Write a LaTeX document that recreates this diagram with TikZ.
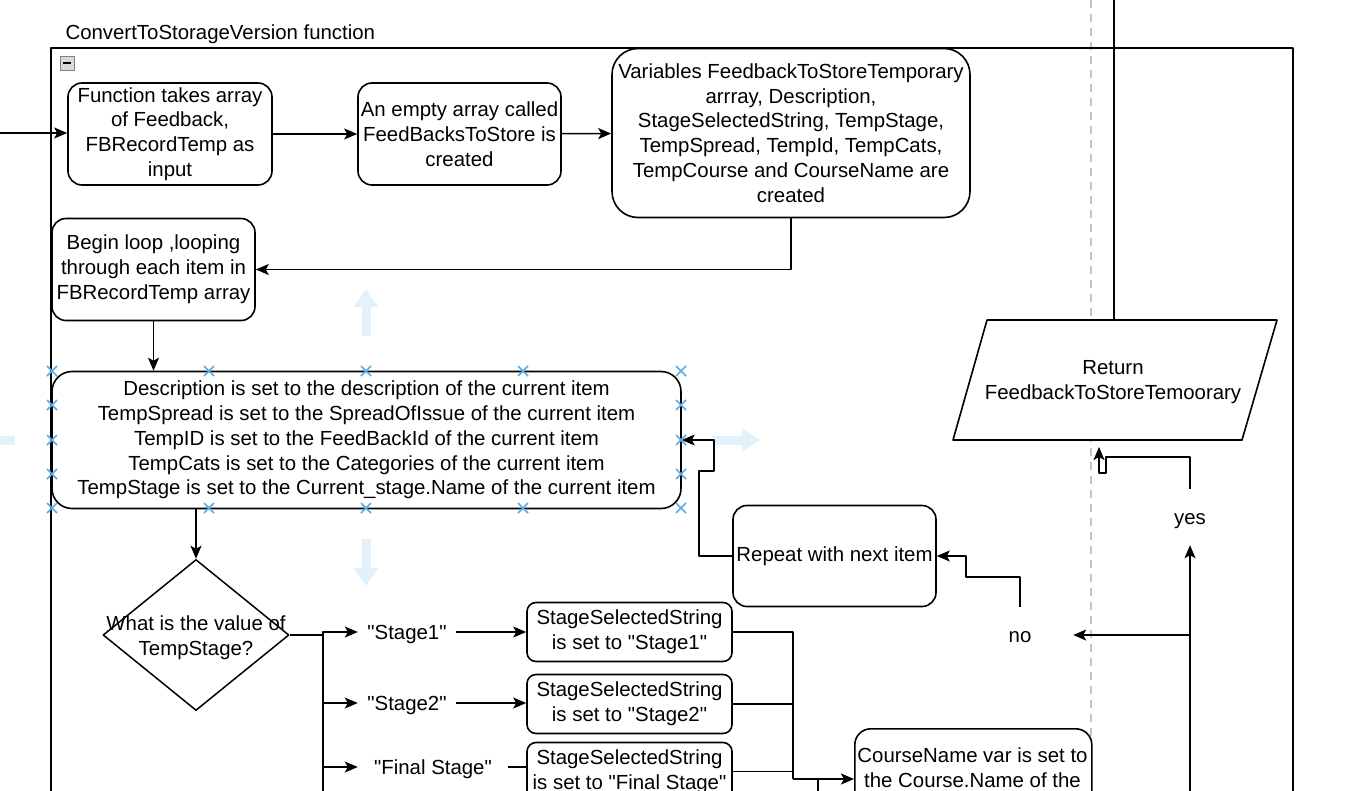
\documentclass[tikz,border=0pt]{standalone}
\usepackage{fontspec}
\setmainfont{Liberation Sans}[Ligatures=TeXOff]
\usetikzlibrary{arrows.meta,shapes.geometric}
\definecolor{handleblue}{HTML}{5AAEE6}
\definecolor{hoverblue}{HTML}{E3F1FB}
\definecolor{guidegray}{HTML}{C4C4C4}
\begin{document}
\begin{tikzpicture}[x=1pt, y=-1pt, line join=round,
	font=\fontsize{20.4}{24.8}\selectfont,
	>={Stealth[length=13pt,width=11pt,inset=3pt]},
	stepbox/.style={draw, fill=white, line width=1.6pt, rounded corners=14pt,
		align=center, inner sep=0pt},
	flow/.style={line width=1.5pt},
	case/.style={inner sep=0pt, minimum height=30pt, text height=15pt, text depth=0pt},
	answer/.style={inner sep=0pt, minimum width=106pt, minimum height=56pt, text height=14pt, text depth=0pt},
	handle/.style={handleblue, line width=1.6pt},
	hover/.style={hoverblue, line width=9pt, -{Triangle[length=18pt,width=23pt]}}]
	\useasboundingbox (0,0) rectangle (1354,790);
	\fill[white] (0,0) rectangle (1354,790);
	\clip (0,0) rectangle (1354,790);
	\draw[guidegray, line width=1.5pt, dash pattern=on 8pt off 6pt] (1091,0) -- (1091,800);
	\draw[hover] (366,336) -- (366,289);
	\draw[hover] (366,539) -- (366,586);
	\draw[hover] (713,440) -- (760,440);
	\draw[hover] (15,440) -- (-30,440);
	\node[anchor=west] (title) at (62,34) {ConvertToStorageVersion function};
	\draw[line width=1.6pt] (51,800) -- (51,48) -- (1293,48) -- (1293,800);
	\draw[gray, fill=gray!30] (60,56) rectangle (74,70);
	\draw[line width=2pt] (63,63) -- (71,63);
	\node[stepbox, minimum width=204, minimum height=102] (takes) at (170,134)
		{Function takes array\\of Feedback,\\FBRecordTemp as\\input};
	\node[stepbox, minimum width=203, minimum height=102] (empty) at (459.5,134)
		{An empty array called\\FeedBacksToStore is\\created};
	\node[stepbox, rounded corners=26pt, minimum width=358, minimum height=169] (vars) at (791,133)
		{Variables FeedbackToStoreTemporary\\arrray, Description,\\StageSelectedString, TempStage,\\TempSpread, TempId, TempCats,\\TempCourse and CourseName are\\created};
	\node[stepbox, minimum width=203, minimum height=102] (loop) at (153.5,269.5)
		{Begin loop ,looping\\through each item in\\FBRecordTemp array};
	\node[stepbox, rounded corners=20pt, minimum width=629, minimum height=137] (setvars) at (366.5,440)
		{Description is set to the description of the current item\\TempSpread is set to the SpreadOfIssue of the current item\\TempID is set to the FeedBackId of the current item\\TempCats is set to the Categories of the current item\\TempStage is set to the Current\_stage.Name of the current item};
	\node[draw, diamond, fill=white, line width=1.5pt, minimum width=186, minimum height=151, inner sep=0pt] (valq) at (196,635) {};
	\node[align=center] (valqtxt) at (196,638) {What is the value of\\TempStage?};
	\node[case, minimum width=98] (lab1) at (407,632) {"Stage1"};
	\node[case, minimum width=98] (lab2) at (407,703) {"Stage2"};
	\node[case, minimum width=150] (lab3) at (433,767) {"Final Stage"};
	\node[stepbox, rounded corners=9pt, minimum width=205, minimum height=59] (stage1) at (629.5,632)
		{StageSelectedString\\is set to "Stage1"};
	\node[stepbox, rounded corners=9pt, minimum width=205, minimum height=59] (stage2) at (629.5,704)
		{StageSelectedString\\is set to "Stage2"};
	\node[stepbox, rounded corners=9pt, minimum width=205, minimum height=58] (stage3) at (629.5,771.5)
		{StageSelectedString\\is set to "Final Stage"};
	\node[stepbox, minimum width=203, minimum height=101] (repeat) at (834.5,556) {Repeat with next item};
	\node[stepbox, rounded corners=16pt, minimum width=237, minimum height=120, anchor=north west] (cname) at (854,728) {};
	\node[align=center, anchor=north, inner sep=0pt] (cnametxt) at (972.5,748)
		{CourseName var is set to\\the Course.Name of the};
	\draw[line width=1.6pt, fill=white] (987,320) -- (1277,320) -- (1242,440) -- (953,440) -- cycle;
	\node[align=center] (ret) at (1113,382) {Return\\FeedbackToStoreTemoorary};
	\node[answer] (yes) at (1190,517) {yes};
	\node[answer] (no) at (1020,635) {no};
	\coordinate (inlet) at (0,133);
	\coordinate (rettop) at (1114,320);
	\coordinate (split) at (323,635);
	\coordinate (merge) at (793,779);
	\coordinate (drop) at (818,779);
	\coordinate (rise) at (1190,800);
	\coordinate (fork) at (1190,635);
	\draw[flow,->] (inlet) -- (inlet -| takes.west);
	\draw[flow,->] (takes) -- (empty);
	\draw[flow,->] (empty) -- (vars);
	\draw[flow,->] (vars.south) |- (loop.east);
	\draw[flow,->] (loop.south) -- (loop.south |- setvars.north);
	\draw[flow,->] (valq.north |- setvars.south) -- (valq.north);
	\draw[line width=2.6pt] (valq.east) -- (split);
	\draw[flow,->] (split) |- (lab1.west);
	\draw[flow,->] (split) |- (lab2.west);
	\draw[flow,->] (split) |- (lab3.west);
	\draw[flow] (split) -- (323,800);
	\draw[flow,->] (lab1) -- (lab1 -| stage1.west);
	\draw[flow,->] (lab2) -- (lab2 -| stage2.west);
	\draw[flow] (lab3) -- (lab3 -| stage3.west);
	\draw[flow] (stage1.east) -| (merge);
	\draw[flow] (stage2.east) -- (stage2.east -| merge);
	\draw[flow] (stage3.east) -- (stage3.east -| merge);
	\draw[line width=2.2pt,->] (merge) -- (merge -| cname.west);
	\draw[flow] (drop) -- (818,800);
	\draw[flow] (rettop) -- (rettop |- 0,0);
	\draw[flow,->] (rise) -- (yes.south);
	\draw[flow,->] (yes.north) |- (1106,457) -- (1106,473) -- (1099,473) -- (1099,447);
	\draw[flow,->] (fork) -- (no.east);
	\draw[flow,->] (no.north) |- (966,577) |- (repeat.east);
	\draw[flow,->] (repeat.west) -| (699,471) -| (714,440) -- (setvars.east);
	\foreach \x in {52,209,366,523,681}{
		\foreach \y in {371,508}{
			\draw[handle] (\x-5,\y-5) -- (\x+5,\y+5) (\x-5,\y+5) -- (\x+5,\y-5);}}
	\foreach \y in {405,440,474}{
		\foreach \x in {52,681}{
			\draw[handle] (\x-5,\y-5) -- (\x+5,\y+5) (\x-5,\y+5) -- (\x+5,\y-5);}}
\end{tikzpicture}
\end{document}
